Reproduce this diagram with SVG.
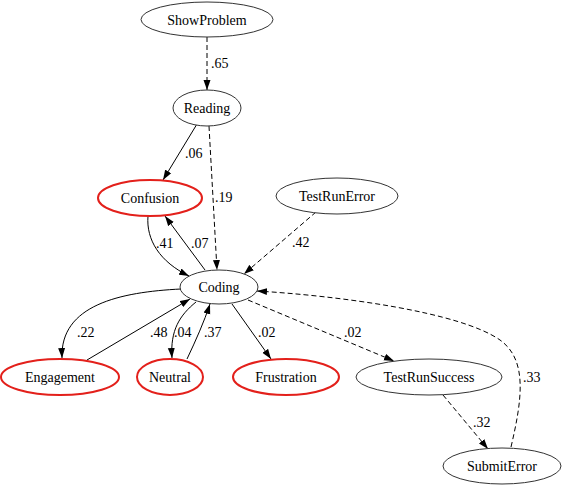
<svg xmlns="http://www.w3.org/2000/svg" width="562" height="486" viewBox="0 0 562 486" font-family="'Liberation Serif', 'DejaVu Serif', serif" font-size="14">
<style>
text{font-family:'Liberation Serif','DejaVu Serif',serif;font-size:14px;fill:#000}
.n text{text-anchor:middle}
.n ellipse{fill:#fff;stroke:#333;stroke-width:1}
.r ellipse{stroke:#e3201b;stroke-width:2}
.e path{fill:none;stroke:#000;stroke-width:1}
.e .d{stroke-dasharray:5,3}
</style>
<defs>
<marker id="a" markerUnits="userSpaceOnUse" markerWidth="11" markerHeight="8" refX="10" refY="4" orient="auto">
<path d="M0,0.5 L10,4 L0,7.5 Z" fill="#000"/>
</marker>
</defs>
<rect width="562" height="486" fill="#fff"/>
<g class="e" id="edges">
<path class="d" d="M207,37 L207,90" marker-end="url(#a)"/>
<path d="M197,124 L163,180" marker-end="url(#a)"/>
<path class="d" d="M209,126 L217,270" marker-end="url(#a)"/>
<path d="M148,216 C146,240 160,262 189,276" marker-end="url(#a)"/>
<path d="M205,270 L165,216" marker-end="url(#a)"/>
<path class="d" d="M316,212 L244,274" marker-end="url(#a)"/>
<path d="M181,289 C120,292 60,305 62,358" marker-end="url(#a)"/>
<path d="M87,360 L190,299" marker-end="url(#a)"/>
<path d="M196,302 C180,315 170,330 172,358" marker-end="url(#a)"/>
<path d="M187,359 C196,340 204,322 210,304" marker-end="url(#a)"/>
<path d="M232,304 L271,359" marker-end="url(#a)"/>
<path class="d" d="M248,300 L394,361" marker-end="url(#a)"/>
<path class="d" d="M443,395 L488,449" marker-end="url(#a)"/>
<path class="d" d="M511,447 C522,400 528,360 500,340 C460,312 340,296 257,291" marker-end="url(#a)"/>
<text x="211" y="68">.65</text>
<text x="185" y="158">.06</text>
<text x="215" y="202">.19</text>
<text x="156" y="248">.41</text>
<text x="191" y="248">.07</text>
<text x="292" y="247">.42</text>
<text x="77" y="337">.22</text>
<text x="150" y="337">.48</text>
<text x="174" y="337">.04</text>
<text x="204" y="337">.37</text>
<text x="258" y="337">.02</text>
<text x="344" y="337">.02</text>
<text x="473" y="427">.32</text>
<text x="523" y="382">.33</text>
</g>
<g class="n" id="ShowProblem"><ellipse cx="207" cy="19.5" rx="66" ry="17.5"/><text x="207" y="24.5">ShowProblem</text></g>
<g class="n" id="Reading"><ellipse cx="207" cy="108" rx="34" ry="18"/><text x="207" y="113">Reading</text></g>
<g class="n r" id="Confusion"><ellipse cx="150" cy="198" rx="52" ry="18"/><text x="150" y="203">Confusion</text></g>
<g class="n" id="TestRunError"><ellipse cx="337" cy="196" rx="61" ry="18"/><text x="337" y="201">TestRunError</text></g>
<g class="n" id="Coding"><ellipse cx="219" cy="287" rx="39" ry="17"/><text x="219" y="292">Coding</text></g>
<g class="n r" id="Engagement"><ellipse cx="60" cy="377" rx="59" ry="18"/><text x="60" y="382">Engagement</text></g>
<g class="n r" id="Neutral"><ellipse cx="170" cy="377" rx="33" ry="18"/><text x="170" y="382">Neutral</text></g>
<g class="n r" id="Frustration"><ellipse cx="286" cy="377" rx="53" ry="18"/><text x="286" y="382">Frustration</text></g>
<g class="n" id="TestRunSuccess"><ellipse cx="429" cy="377" rx="73" ry="18"/><text x="429" y="382">TestRunSuccess</text></g>
<g class="n" id="SubmitError"><ellipse cx="502" cy="466" rx="59" ry="18"/><text x="502" y="471">SubmitError</text></g>
</svg>
